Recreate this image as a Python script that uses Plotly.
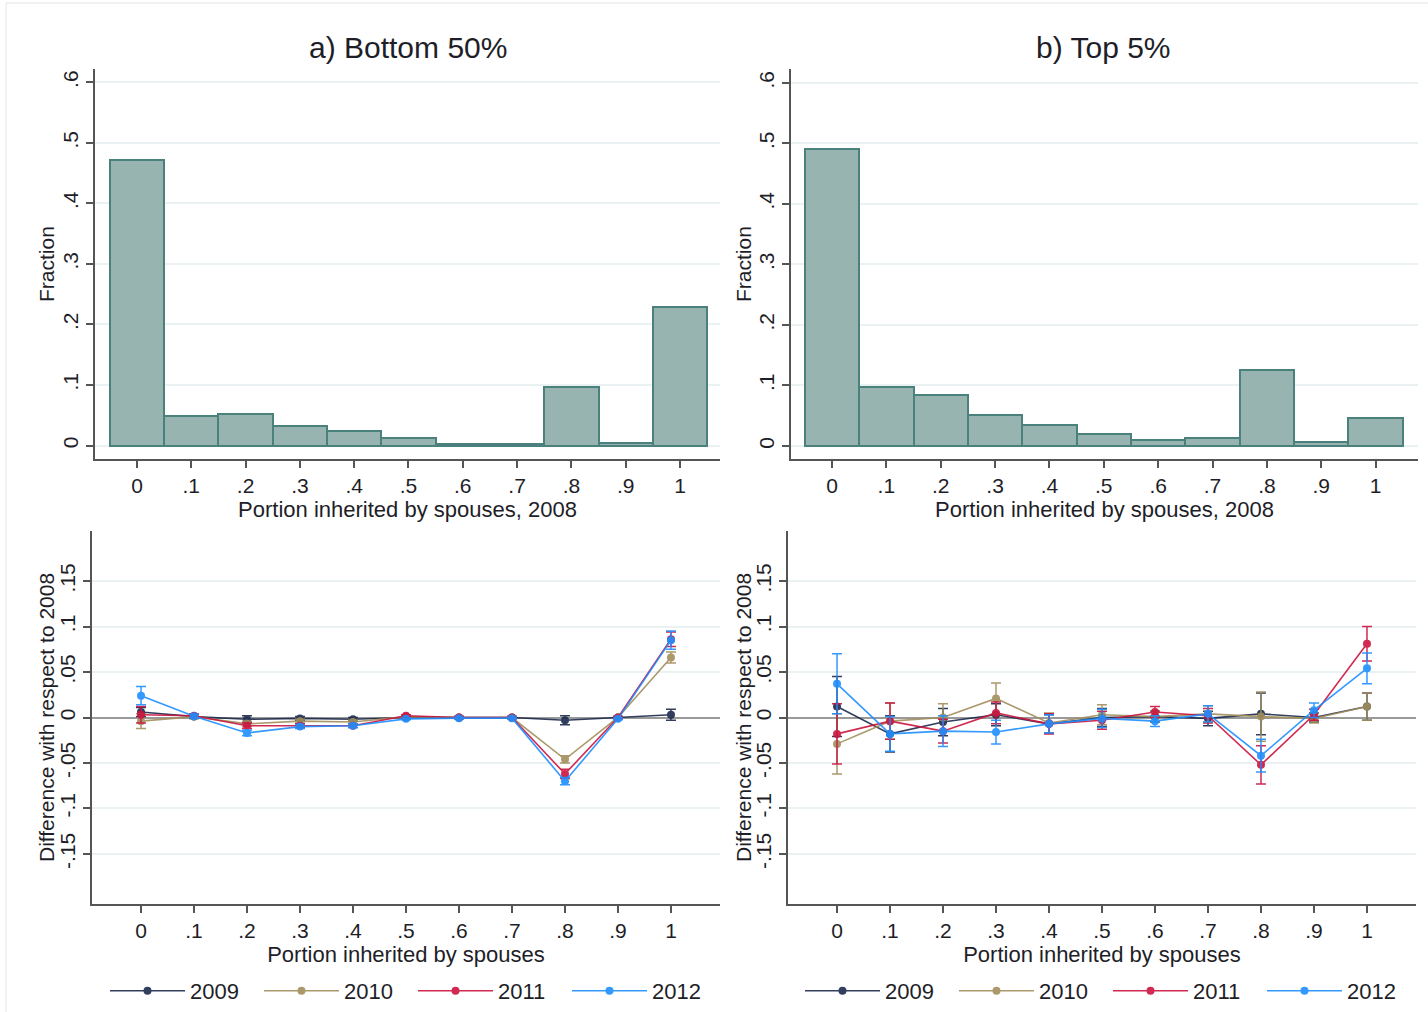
import plotly.graph_objects as go

# Share of the estate inherited by spouses (bin centres)
bins = [0, 0.1, 0.2, 0.3, 0.4, 0.5, 0.6, 0.7, 0.8, 0.9, 1.0]
tick_text_x = ["0", ".1", ".2", ".3", ".4", ".5", ".6", ".7", ".8", ".9", "1"]

# Histogram fractions, 2008
frac_bottom50 = [0.472, 0.048, 0.052, 0.033, 0.024, 0.012, 0.003, 0.002, 0.097, 0.004, 0.228]
frac_top5 = [0.491, 0.098, 0.084, 0.052, 0.034, 0.019, 0.010, 0.013, 0.126, 0.007, 0.046]

years = ["2009", "2010", "2011", "2012"]

# Difference with respect to 2008, bottom 50%
b50_diff = {
    "2009": [0.006, 0.001, -0.002, -0.001, -0.002, 0.000, 0.000, 0.000, -0.003, 0.000, 0.003],
    "2010": [-0.004, 0.001, -0.007, -0.004, -0.005, 0.001, 0.000, 0.000, -0.046, 0.000, 0.066],
    "2011": [0.003, 0.002, -0.009, -0.009, -0.009, 0.002, 0.000, 0.000, -0.062, 0.000, 0.086],
    "2012": [0.024, 0.0015, -0.017, -0.010, -0.009, -0.0015, -0.0007, -0.0007, -0.070, -0.0015, 0.085],
}
b50_ci = {
    "2009": [0.005, 0.002, 0.004, 0.002, 0.002, 0.001, 0.001, 0.001, 0.005, 0.001, 0.006],
    "2010": [0.008, 0.002, 0.003, 0.002, 0.002, 0.001, 0.001, 0.001, 0.004, 0.001, 0.006],
    "2011": [0.009, 0.002, 0.003, 0.002, 0.002, 0.001, 0.001, 0.001, 0.005, 0.001, 0.008],
    "2012": [0.010, 0.002, 0.003, 0.002, 0.002, 0.001, 0.001, 0.001, 0.004, 0.001, 0.010],
}

# Difference with respect to 2008, top 5%
t5_diff = {
    "2009": [0.012, -0.018, -0.005, 0.003, -0.007, 0.000, 0.001, -0.001, 0.004, 0.000, 0.012],
    "2010": [-0.029, -0.004, 0.000, 0.021, -0.006, 0.003, 0.001, 0.004, 0.001, -0.001, 0.012],
    "2011": [-0.018, -0.004, -0.015, 0.005, -0.007, -0.003, 0.006, 0.002, -0.052, 0.003, 0.081],
    "2012": [0.037, -0.018, -0.015, -0.016, -0.007, -0.001, -0.004, 0.004, -0.042, 0.008, 0.054],
}
t5_ci = {
    "2009": [0.033, 0.020, 0.015, 0.012, 0.010, 0.010, 0.006, 0.008, 0.023, 0.005, 0.015],
    "2010": [0.033, 0.020, 0.015, 0.017, 0.011, 0.011, 0.006, 0.009, 0.027, 0.005, 0.015],
    "2011": [0.033, 0.020, 0.013, 0.012, 0.011, 0.010, 0.006, 0.008, 0.021, 0.006, 0.019],
    "2012": [0.033, 0.019, 0.017, 0.013, 0.010, 0.010, 0.006, 0.009, 0.018, 0.008, 0.017],
}

frac_ticks = [0, 0.1, 0.2, 0.3, 0.4, 0.5, 0.6]
frac_tick_text = ["0", ".1", ".2", ".3", ".4", ".5", ".6"]
diff_ticks = [-0.15, -0.1, -0.05, 0, 0.05, 0.1, 0.15]
diff_tick_text = ["-.15", "-.1", "-.05", "0", ".05", ".1", ".15"]

year_colors = {"2009": "#1c2a4c", "2010": "#a38f5c", "2011": "#cc1440", "2012": "#1e8fff"}

TEXT = "#1e1e28"
AXIS = "#555555"
GRID = "#eaf1f3"
FONT = "Liberation Sans, Arial, sans-serif"

fig = go.Figure()

# Histograms
for frac, xa, ya in [(frac_bottom50, "x", "y"), (frac_top5, "x2", "y2")]:
    fig.add_trace(go.Bar(
        x=bins, y=frac, width=0.1, xaxis=xa, yaxis=ya,
        marker=dict(color="#97b4b1", line=dict(color="#4b817c", width=2)),
        showlegend=False,
    ))

# Year-on-year differences with confidence intervals
for diffs, cis, xa, ya, leg in [(b50_diff, b50_ci, "x3", "y3", "legend"),
                                (t5_diff, t5_ci, "x4", "y4", "legend2")]:
    for yr in years:
        c = year_colors[yr]
        fig.add_trace(go.Scatter(
            x=bins, y=diffs[yr], xaxis=xa, yaxis=ya, name=yr, legend=leg,
            mode="lines+markers",
            line=dict(color=c, width=1.6),
            marker=dict(color=c, size=8),
            opacity=0.9,
            error_y=dict(type="data", array=cis[yr], color=c, thickness=1.5, width=5),
        ))

W, H = 1428, 1012
dom_top = [1 - 459 / H, 1 - 69 / H]
dom_bot = [1 - 904 / H, 1 - 531 / H]


def xaxis(domain, rng, anchor, title):
    return dict(
        domain=domain, range=rng, anchor=anchor,
        tickmode="array", tickvals=bins, ticktext=tick_text_x,
        showline=True, linecolor=AXIS, linewidth=1.5,
        ticks="outside", ticklen=7, tickcolor=AXIS, tickwidth=1.5,
        showgrid=False, zeroline=False,
        tickfont=dict(size=21, color=TEXT, family=FONT),
        title=dict(text=title, standoff=2, font=dict(size=22, color=TEXT, family=FONT)),
        automargin=False, fixedrange=True,
    )


def yaxis(domain, rng, anchor, tv, tt, zero):
    return dict(
        domain=domain, range=rng, anchor=anchor,
        tickmode="array", tickvals=tv, ticktext=tt, tickangle=-90,
        showline=True, linecolor=AXIS, linewidth=1.5,
        ticks="outside", ticklen=7, tickcolor=AXIS, tickwidth=1.5,
        showgrid=True, gridcolor=GRID, gridwidth=1.5,
        zeroline=zero, zerolinecolor="#9a9a9a", zerolinewidth=1.5,
        tickfont=dict(size=21, color=TEXT, family=FONT),
        automargin=False, fixedrange=True,
    )


# Legends sit flush with the bottom edge so they never push the plot margins
legend_style = dict(orientation="h", y=0, xanchor="left", yanchor="bottom",
                    entrywidth=64, entrywidthmode="pixels", itemwidth=75,
                    font=dict(size=22, color=TEXT, family=FONT), bgcolor="rgba(0,0,0,0)",
                    itemclick=False, itemdoubleclick=False)


def label(text, x, y, size, angle=0):
    return dict(text=text, x=x / W, y=1 - y / H, xref="paper", yref="paper",
                showarrow=False, xanchor="center", yanchor="middle", textangle=angle,
                font=dict(size=size, color=TEXT, family=FONT))


fig.update_layout(
    width=W, height=H,
    margin=dict(l=0, r=0, t=0, b=0),
    paper_bgcolor="white", plot_bgcolor="white",
    bargap=0,
    font=dict(family=FONT, color=TEXT),
    xaxis=xaxis([95 / W, 720 / W], [-0.0773, 1.0737], "y", "Portion inherited by spouses, 2008"),
    yaxis=yaxis(dom_top, [-0.0223, 0.622], "x", frac_ticks, frac_tick_text, False),
    xaxis2=xaxis([791 / W, 1418 / W], [-0.0754, 1.078], "y2", "Portion inherited by spouses, 2008"),
    yaxis2=yaxis(dom_top, [-0.0215, 0.623], "x2", frac_ticks, frac_tick_text, False),
    xaxis3=xaxis([92 / W, 720 / W], [-0.0925, 1.0925], "y3", "Portion inherited by spouses"),
    yaxis3=yaxis(dom_bot, [-0.205, 0.205], "x3", diff_ticks, diff_tick_text, True),
    xaxis4=xaxis([788 / W, 1416 / W], [-0.0925, 1.0925], "y4", "Portion inherited by spouses"),
    yaxis4=yaxis(dom_bot, [-0.205, 0.205], "x4", diff_ticks, diff_tick_text, True),
    legend=dict(legend_style, x=105 / W),
    legend2=dict(legend_style, x=800 / W),
    annotations=[
        label("a) Bottom 50%", 407.5, 48, 30),
        label("b) Top 5%", 1103, 48, 30),
        label("Fraction", 46, 264, 21, -90),
        label("Fraction", 743, 264, 21, -90),
        label("Difference with respect to 2008", 46, 718, 21, -90),
        label("Difference with respect to 2008", 743, 718, 21, -90),
    ],
    shapes=[
        dict(type="rect", xref="paper", yref="paper", x0=6 / W, y0=-0.01, x1=1.01, y1=1 - 3 / H,
             line=dict(color="#e4e4e4", width=1), fillcolor="rgba(0,0,0,0)", layer="below"),
    ],
)

fig.write_html("out.html")
